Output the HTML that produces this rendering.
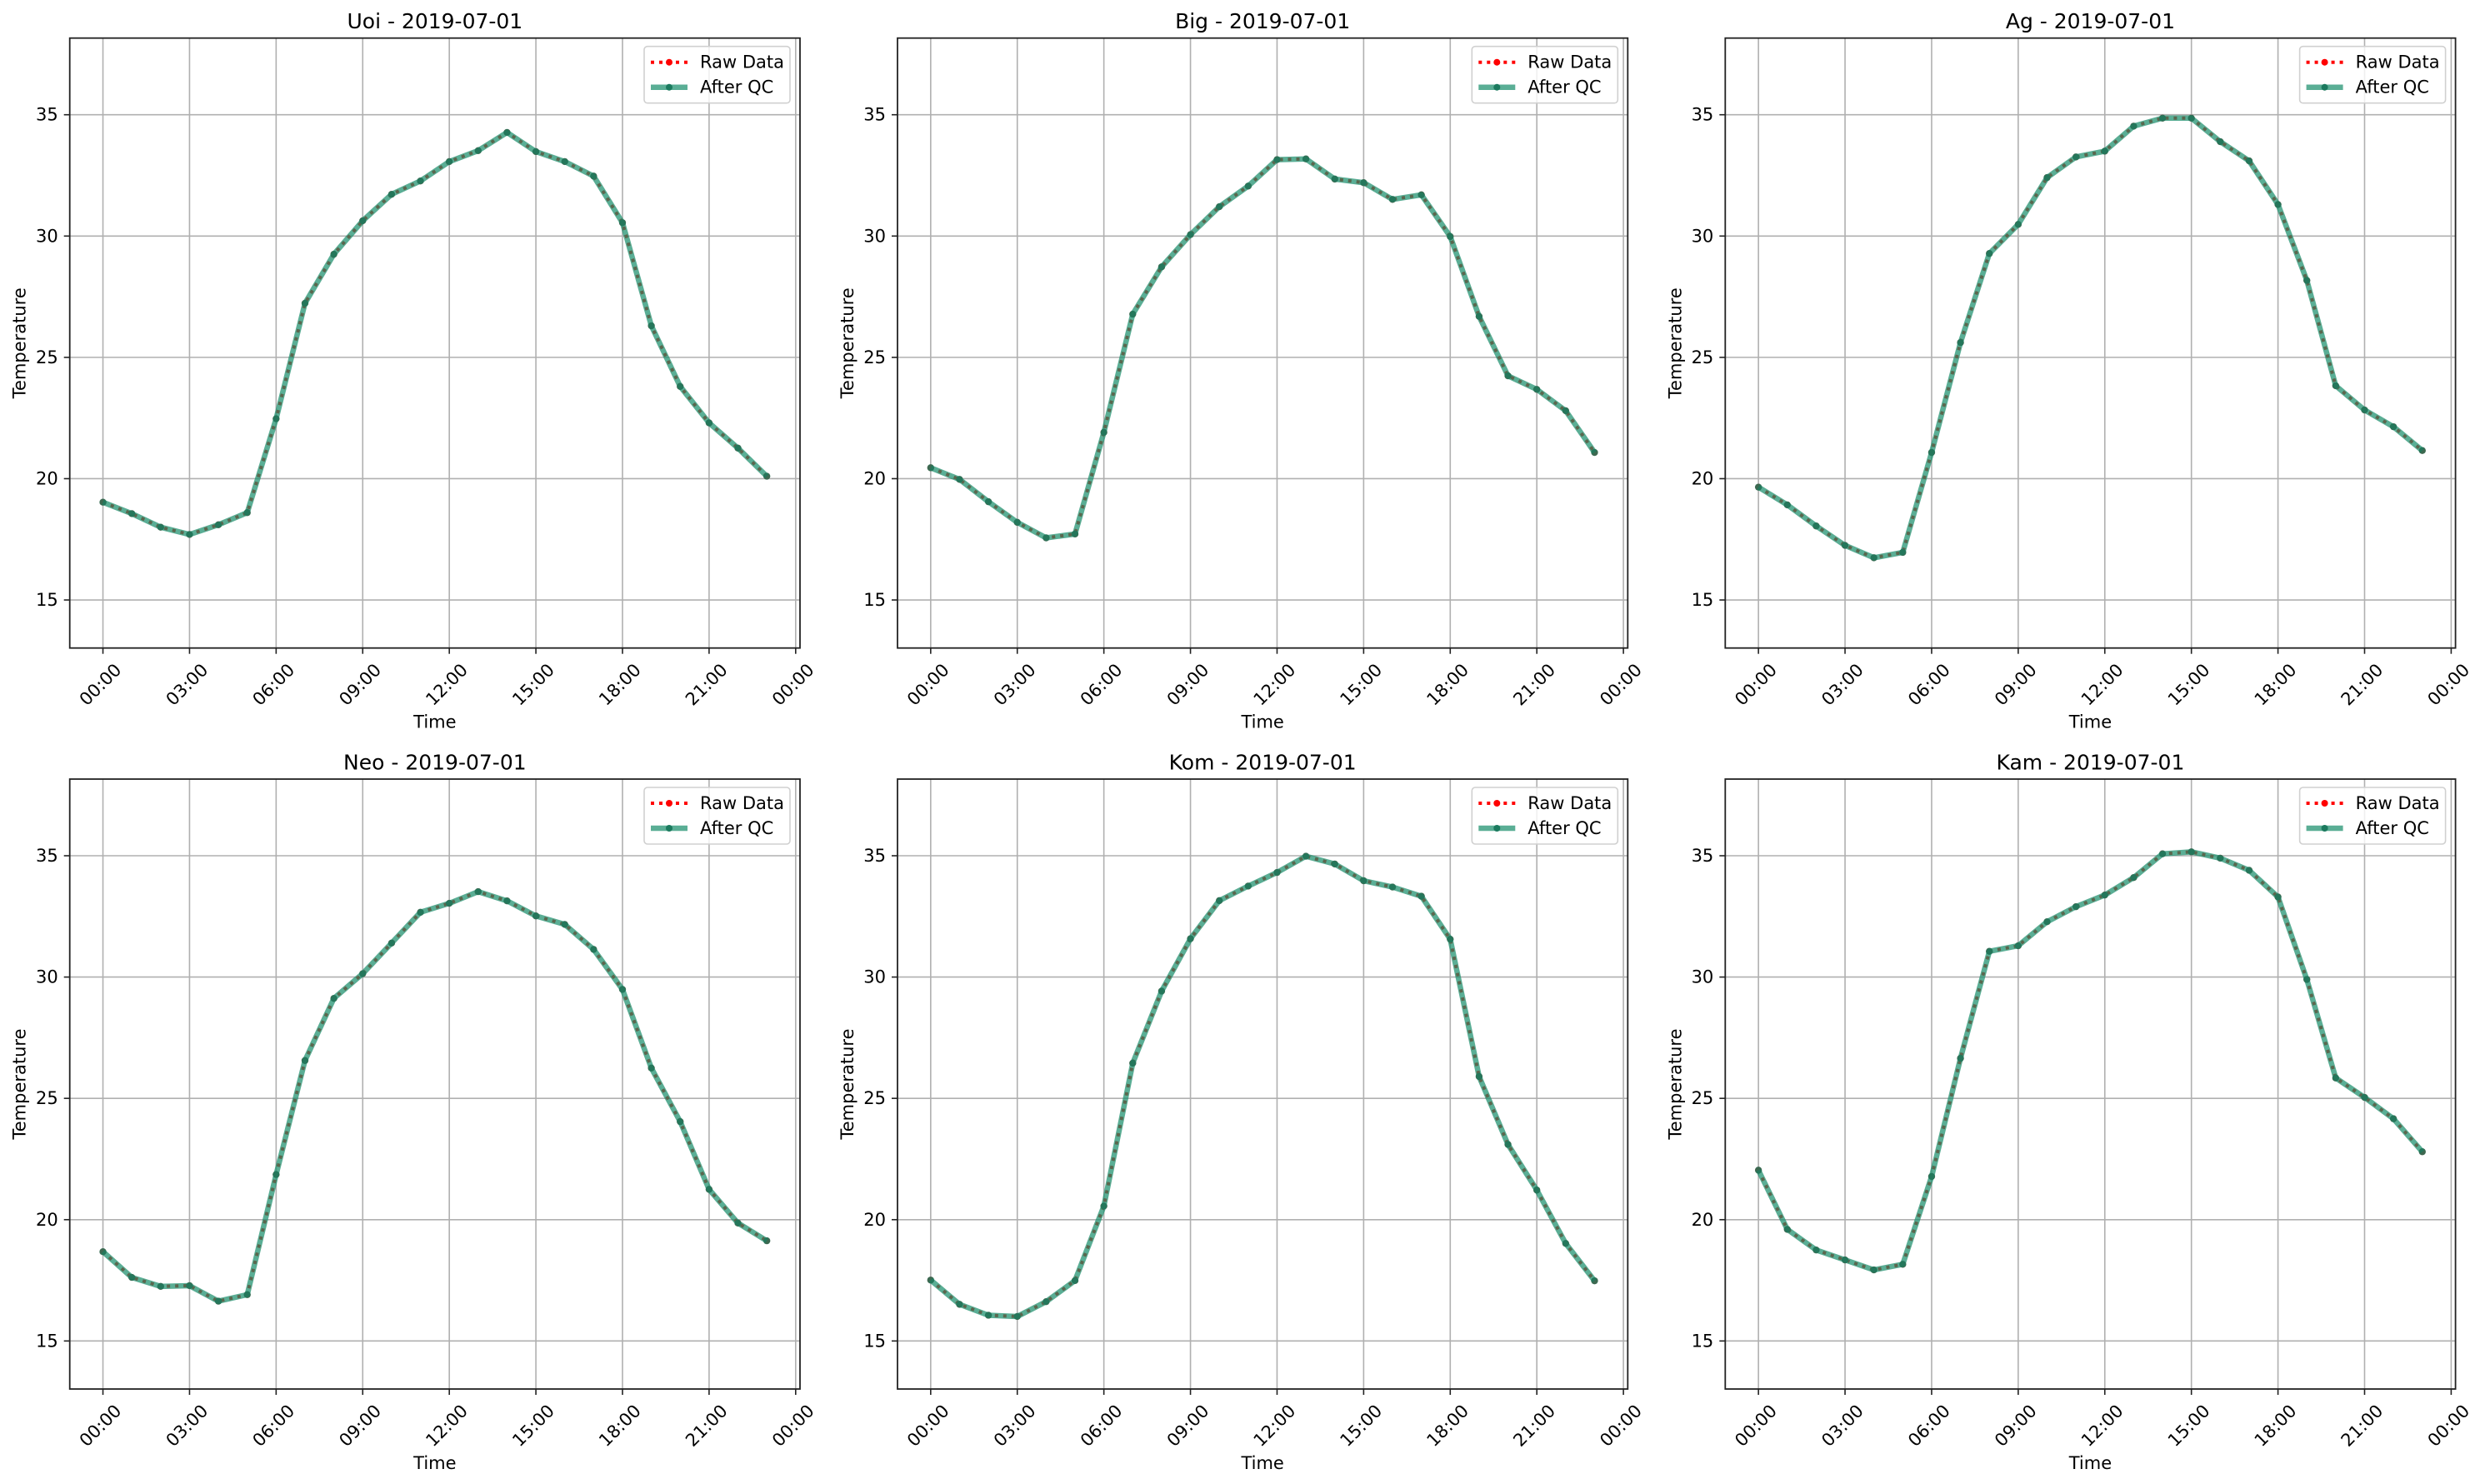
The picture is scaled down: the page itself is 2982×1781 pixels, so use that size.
<!DOCTYPE html>
<html><head><meta charset="utf-8"><style>
body{margin:0;background:#fff}
svg{display:block;font-family:"DejaVu Sans","Liberation Sans",sans-serif}
</style></head><body>
<svg id="fig" width="2982" height="1781" viewBox="0 0 2982 1781" xmlns="http://www.w3.org/2000/svg"></svg>
<script>
const stations = ["Uoi","Big","Ag","Neo","Kom","Kam"];
const dateLabel = "2019-07-01";
const hours = [0,1,2,3,4,5,6,7,8,9,10,11,12,13,14,15,16,17,18,19,20,21,22,23];
const uoiTemps = [19.03,18.56,18.0,17.7,18.1,18.6,22.47,27.23,29.25,30.63,31.72,32.27,33.07,33.52,34.27,33.48,33.07,32.47,30.55,26.3,23.8,22.3,21.26,20.1];
const bigTemps = [20.45,19.97,19.05,18.2,17.56,17.72,21.91,26.78,28.73,30.06,31.21,32.06,33.15,33.18,32.35,32.2,31.51,31.7,29.98,26.69,24.24,23.68,22.8,21.08];
const agTemps = [19.65,18.92,18.05,17.25,16.74,16.96,21.08,25.61,29.28,30.48,32.41,33.26,33.5,34.53,34.86,34.86,33.89,33.1,31.3,28.17,23.83,22.83,22.14,21.16];
const neoTemps = [18.68,17.62,17.25,17.28,16.64,16.91,21.86,26.56,29.12,30.14,31.4,32.67,33.04,33.52,33.14,32.52,32.17,31.14,29.49,26.25,24.04,21.25,19.86,19.13];
const komTemps = [17.51,16.51,16.06,16.01,16.62,17.49,20.56,26.45,29.42,31.58,33.15,33.75,34.31,34.98,34.66,33.97,33.71,33.33,31.56,25.9,23.1,21.22,19.02,17.48];
const kamTemps = [22.04,19.6,18.75,18.34,17.93,18.16,21.78,26.65,31.06,31.29,32.28,32.9,33.38,34.1,35.08,35.16,34.9,34.4,33.3,29.9,25.84,25.04,24.16,22.8];
const seriesList = [uoiTemps,bigTemps,agTemps,neoTemps,komTemps,kamTemps];
const xTickHours = [0,3,6,9,12,15,18,21,24];
const xTickLabels = ["00:00","03:00","06:00","09:00","12:00","15:00","18:00","21:00","00:00"];
const yTicks = [15,20,25,30,35];
const yTickLabels = ["15","20","25","30","35"];

const NS="http://www.w3.org/2000/svg";
const svg=document.getElementById('fig');
function mk(tag,attrs,parent){const e=document.createElementNS(NS,tag);for(const k in attrs)e.setAttribute(k,attrs[k]);(parent||svg).appendChild(e);return e;}
const lefts=[83.7,1077,2070.3], tops=[45.7,935];
const W=876.3,H=732;
const xMin=-1.15,xMax=24.15,yMin=13.02,yMax=38.16;

seriesList.forEach((data,i)=>{
  const L=lefts[i%3], T=tops[Math.floor(i/3)];
  const xs=h=>L+(h-xMin)/(xMax-xMin)*W;
  const ys=v=>T+H-(v-yMin)/(yMax-yMin)*H;
  const g=mk('g',{});
  
  
  // grid
  xTickHours.forEach((h,k)=>{
    const gl=mk('line',{x1:xs(h),x2:xs(h),y1:T,y2:T+H,stroke:'#b0b0b0','stroke-width':1.6},g);
    
    
    const tk=mk('line',{x1:xs(h),x2:xs(h),y1:T+H,y2:T+H+7,stroke:'#222','stroke-width':1.6},g);
    
    
    const cx=xs(h)-3, cy=T+H+44;
    const t=mk('text',{x:cx,y:cy,'font-size':21,'text-anchor':'middle','dominant-baseline':'central',transform:`rotate(-45 ${cx} ${cy})`,fill:'#000'},g);
    t.textContent=xTickLabels[k];
    
    
  });
  yTicks.forEach((v,k)=>{
    const gl=mk('line',{x1:L,x2:L+W,y1:ys(v),y2:ys(v),stroke:'#b0b0b0','stroke-width':1.6},g);
    
    
    const tk=mk('line',{x1:L-7,x2:L,y1:ys(v),y2:ys(v),stroke:'#222','stroke-width':1.6},g);
    
    
    const t=mk('text',{x:L-14,y:ys(v),'font-size':21,'text-anchor':'end','dominant-baseline':'central',fill:'#000'},g);
    t.textContent=yTickLabels[k];
    
    
  });
  const pts=data.map((v,k)=>xs(hours[k])+','+ys(v)).join(' ');
  const raw=mk('polyline',{points:pts,fill:'none',stroke:'#ff0000','stroke-width':4,'stroke-dasharray':'4 6'},g);
  
  
  data.forEach((v,k)=>{
    const c=mk('circle',{cx:xs(hours[k]),cy:ys(v),r:4,fill:'#ff0000'},g);
    
    
  });
  const qc=mk('polyline',{points:pts,fill:'none',stroke:'#1b8f6c','stroke-width':6.5,'stroke-opacity':0.72,'stroke-linejoin':'round'},g);
  
  
  data.forEach((v,k)=>{
    const c=mk('circle',{cx:xs(hours[k]),cy:ys(v),r:4.2,fill:'#1b7a5e','fill-opacity':0.85},g);
    
    
  });
  const fr=mk('rect',{x:L,y:T,width:W,height:H,fill:'none',stroke:'#222','stroke-width':1.8},g);
  
  
  const ti=mk('text',{x:L+W/2,y:T-20,'font-size':25,'text-anchor':'middle','dominant-baseline':'central',fill:'#000'},g);
  ti.textContent=stations[i]+' - '+dateLabel;
  
  
  const xl=mk('text',{x:L+W/2,y:T+H+89,'font-size':21,'text-anchor':'middle','dominant-baseline':'central',fill:'#000'},g);
  xl.textContent='Time';
  
  
  const yx=L-60, yy=T+H/2;
  const yl=mk('text',{x:yx,y:yy,'font-size':21,'text-anchor':'middle','dominant-baseline':'central',transform:`rotate(-90 ${yx} ${yy})`,fill:'#000'},g);
  yl.textContent='Temperature';
  
  
  // legend
  const lg=mk('g',{},g);
  
  
  const lx=L+W-12-175, ly=T+10;
  mk('rect',{x:lx,y:ly,width:175,height:68,rx:4,fill:'#fff','fill-opacity':0.8,stroke:'#d0d0d0','stroke-width':1.6},lg);
  const r1=ly+19, r2=ly+49;
  mk('line',{x1:lx+8,x2:lx+52,y1:r1,y2:r1,stroke:'#ff0000','stroke-width':4,'stroke-dasharray':'4 6'},lg);
  mk('circle',{cx:lx+30,cy:r1,r:4,fill:'#ff0000'},lg);
  const t1=mk('text',{x:lx+67,y:r1,'font-size':21,'dominant-baseline':'central',fill:'#000'},lg);
  t1.textContent='Raw Data';
  
  
  mk('line',{x1:lx+8,x2:lx+52,y1:r2,y2:r2,stroke:'#1b8f6c','stroke-width':6.5,'stroke-opacity':0.72},lg);
  mk('circle',{cx:lx+30,cy:r2,r:4,fill:'#1b7a5e'},lg);
  const t2=mk('text',{x:lx+67,y:r2,'font-size':21,'dominant-baseline':'central',fill:'#000'},lg);
  t2.textContent='After QC';
  
  
});
</script>
</body></html>
